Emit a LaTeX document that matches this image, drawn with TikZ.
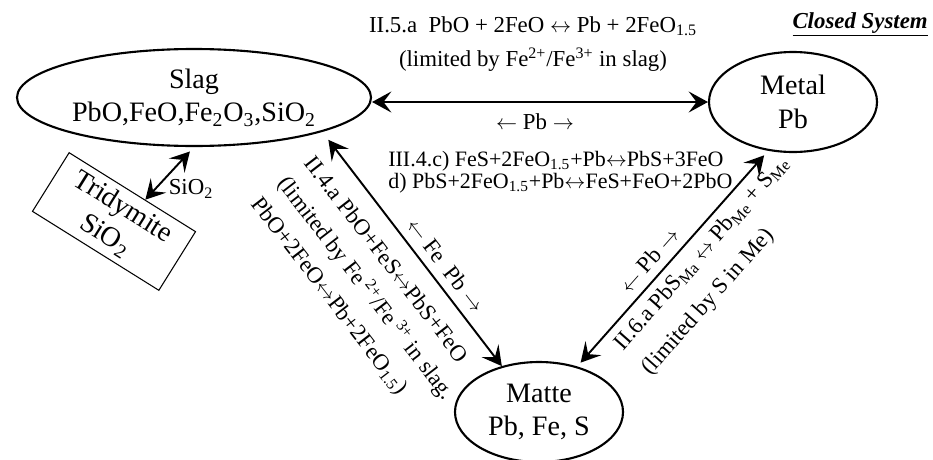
\documentclass[tikz,border=0pt]{standalone}
\usepackage{fontspec}
\setmainfont{Liberation Serif}
\usetikzlibrary{shapes.geometric,arrows.meta,calc}
\newcommand{\lra}{$\leftrightarrow$}
\newcommand{\la}{$\leftarrow$}
\newcommand{\ra}{$\rightarrow$}
\begin{document}
\begin{tikzpicture}[>={Stealth[length=11pt,width=12pt,inset=4.5pt]},
  phase/.style={ellipse,draw,line width=1.2pt,inner sep=0pt,align=center,font=\fontsize{16}{19}\selectfont},
  note/.style={inner sep=0pt,align=left,font=\fontsize{13}{16}\selectfont},
  link/.style={<->,line width=1.1pt}]
  \useasboundingbox (0,0) rectangle (18.66,-9.18);
  \node[phase,minimum width=7.08cm,minimum height=1.94cm] (slag) at (3.88,-1.95) {Slag\\PbO,FeO,Fe\textsubscript{2}O\textsubscript{3},SiO\textsubscript{2}};
  \node[phase,minimum width=3.36cm,minimum height=2.0cm] (metal) at (15.86,-2.04) {Metal\\Pb};
  \node[phase,minimum width=3.36cm,minimum height=2.0cm] (matte) at (10.78,-8.24) {Matte\\Pb, Fe, S};
  \node[draw,line width=0.6pt,rotate=-32,minimum width=2.98cm,minimum height=1.33cm,align=center,font=\fontsize{16}{19}\selectfont] (tri) at (2.28,-4.43) {Tridymite\\SiO\textsubscript{2}};
  \draw[link] (metal.west -| slag.east) -- (metal.west);
  \draw[link,shorten <=0.2cm] (slag.-15) -- (matte.129.7);
  \draw[link,shorten <=0.1cm,shorten >=0.12cm] (matte.50) -- (metal.-117.5);
  \draw[link,shorten >=0.12cm] ($(tri.north)!0.2!(tri.north east)$) -- (slag.south);
  \node[note,align=center,font=\fontsize{13}{19.3}\selectfont] (r55) at (10.66,-0.88) {II.5.a\ \ PbO + 2FeO \lra{} Pb + 2FeO\textsubscript{1.5}\\(limited by Fe\textsuperscript{2+}/Fe\textsuperscript{3+} in slag)};
  \node[note,anchor=base east,font=\fontsize{13}{16}\selectfont\bfseries\itshape] (closed) at (18.56,-0.56) {\underline{Closed System}};
  \node[note] (pbtop) at (10.7,-2.44) {\la{} Pb \ra};
  \node[note,anchor=west,font=\fontsize{12.5}{12.5}\selectfont] (r34) at (7.76,-3.44) {III.4.c) FeS+2FeO\textsubscript{1.5}+Pb\lra PbS+3FeO\\d) PbS+2FeO\textsubscript{1.5}+Pb\lra FeS+FeO+2PbO};
  \node[note] (sio) at (3.82,-3.78) {SiO\textsubscript{2}};
  \node[note,rotate=-52.4] (fepb) at (8.92,-5.30) {\la{} Fe\ \ Pb \ra};
  \node[note,rotate=-52.4,font=\fontsize{13}{19}\selectfont] (r44) at (7.30,-5.78) {II.4.a PbO+FeS\lra PbS+FeO\\(limited by Fe\,\textsuperscript{2+}/Fe\,\textsuperscript{3+} in slag.\\PbO+2FeO\lra Pb+2FeO\textsubscript{1.5})};
  \node[note,rotate=48.5] (pbr) at (12.98,-5.20) {\la{} Pb \ra};
  \node[note,rotate=48.5,font=\fontsize{13}{21}\selectfont] (r66) at (14.32,-5.32) {II.6.a PbS\textsubscript{Ma} \lra{} Pb\textsubscript{Me} + S\textsubscript{Me}\\(limited by S in Me)};
\end{tikzpicture}
\end{document}
